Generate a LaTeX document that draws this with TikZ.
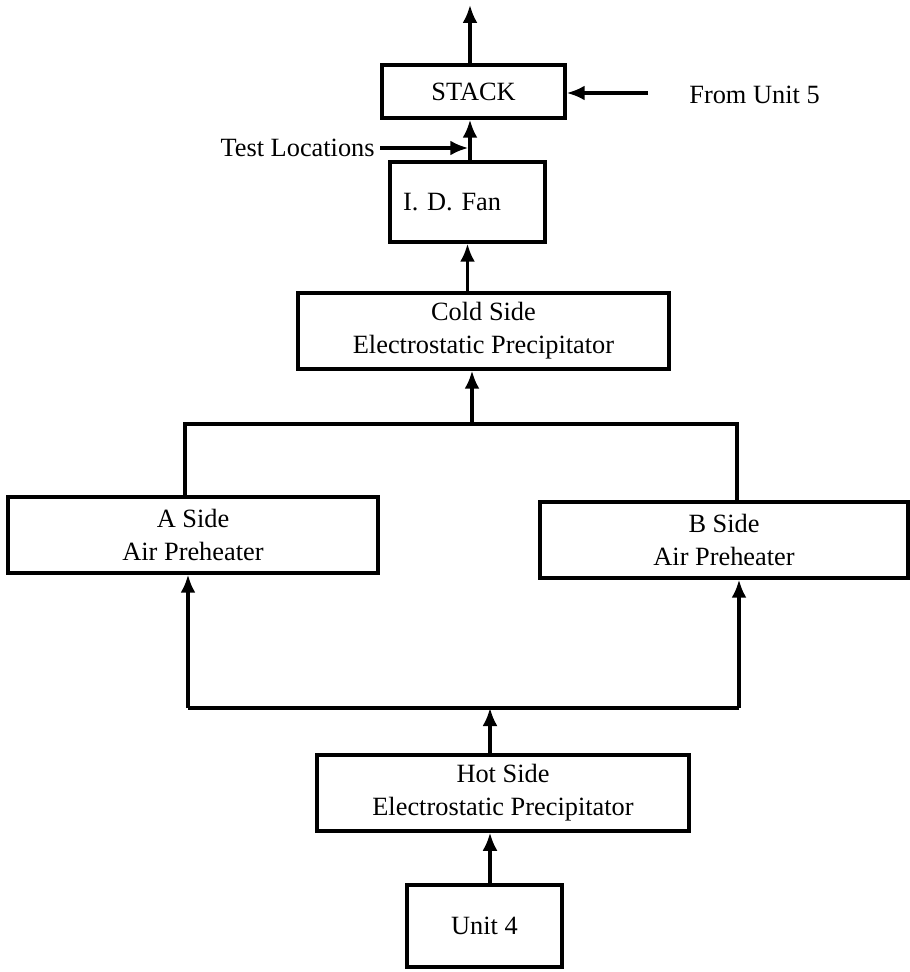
\documentclass[tikz,border=0pt]{standalone}
\usepackage{fontspec}
\setmainfont{Liberation Serif}
\usetikzlibrary{arrows.meta}

\tikzset{
    block node/.style={rectangle,draw,line width=2pt,align=center,font=\fontsize{15}{18.8}\selectfont,inner sep=0},
    label node/.style={inner sep=0,font=\fontsize{15}{18.8}\selectfont},
    pipe/.style={line width=1.8pt},
    flow/.style={line width=1.8pt,-{Latex[length=0.36cm,width=0.3cm]}}
    }

\begin{document}
\begin{tikzpicture}[x=0.02cm,y=-0.02cm]
                \useasboundingbox (0,0) rectangle (909,972);
                \node(stack)[block node, minimum width=3.66cm, minimum height=1.06cm] at (473.5,91.5) {STACK};
                \node(fan)[block node, minimum height=1.6cm, text width=2.58cm, align=left, inner xsep=0.26cm] at (467.5,202) {I. D. Fan};
                \node(cold)[block node, minimum width=7.42cm, minimum height=1.52cm] at (483.5,331) {Cold Side\\Electrostatic Precipitator};
                \node(aph)[block node, minimum width=7.40cm, minimum height=1.52cm] at (193,535) {A Side\\Air Preheater};
                \node(bph)[block node, minimum width=7.36cm, minimum height=1.52cm] at (724,540) {B Side\\Air Preheater};
                \node(hot)[block node, minimum width=7.44cm, minimum height=1.52cm] at (503,793) {Hot Side\\Electrostatic Precipitator};
                \node(unit4)[block node, minimum width=3.10cm, minimum height=1.64cm] at (484.5,926) {Unit 4};
                \node(unit5)[label node, anchor=west] at (689,95) {From Unit 5};
                \node(test)[label node, anchor=east] at (375,148) {Test Locations};

                \coordinate (exit) at (470,5);
                \coordinate (u5) at (648,93);
                \coordinate (ajoin) at (185,424);
                \coordinate (bjoin) at (737,424);
                \coordinate (cjoin) at (472,424);
                \coordinate (ahot) at (188,708);
                \coordinate (bhot) at (739,708);
                \coordinate (hjoin) at (490,708);

                \draw[flow] (exit |- stack.north) -- (exit);
                \draw[flow] (u5) -- (u5 -| stack.east);
                \draw[flow] (exit |- fan.north) -- (exit |- stack.south);
                \draw[flow, shorten <=3pt, shorten >=1pt] (test.east) -- (test.east -| exit);
                \draw[flow] (fan.south |- cold.north) -- (fan.south);
                \draw[pipe] (ajoin |- aph.north) -- (ajoin) -- (bjoin) -- (bjoin |- bph.north);
                \draw[flow] (cjoin) -- (cjoin |- cold.south);
                \draw[pipe] (ahot) -- (bhot);
                \draw[flow] (ahot) -- (ahot |- aph.south);
                \draw[flow] (bhot) -- (bhot |- bph.south);
                \draw[flow] (hjoin |- hot.north) -- (hjoin);
                \draw[flow] (hjoin |- unit4.north) -- (hjoin |- hot.south);
\end{tikzpicture}
\end{document}
